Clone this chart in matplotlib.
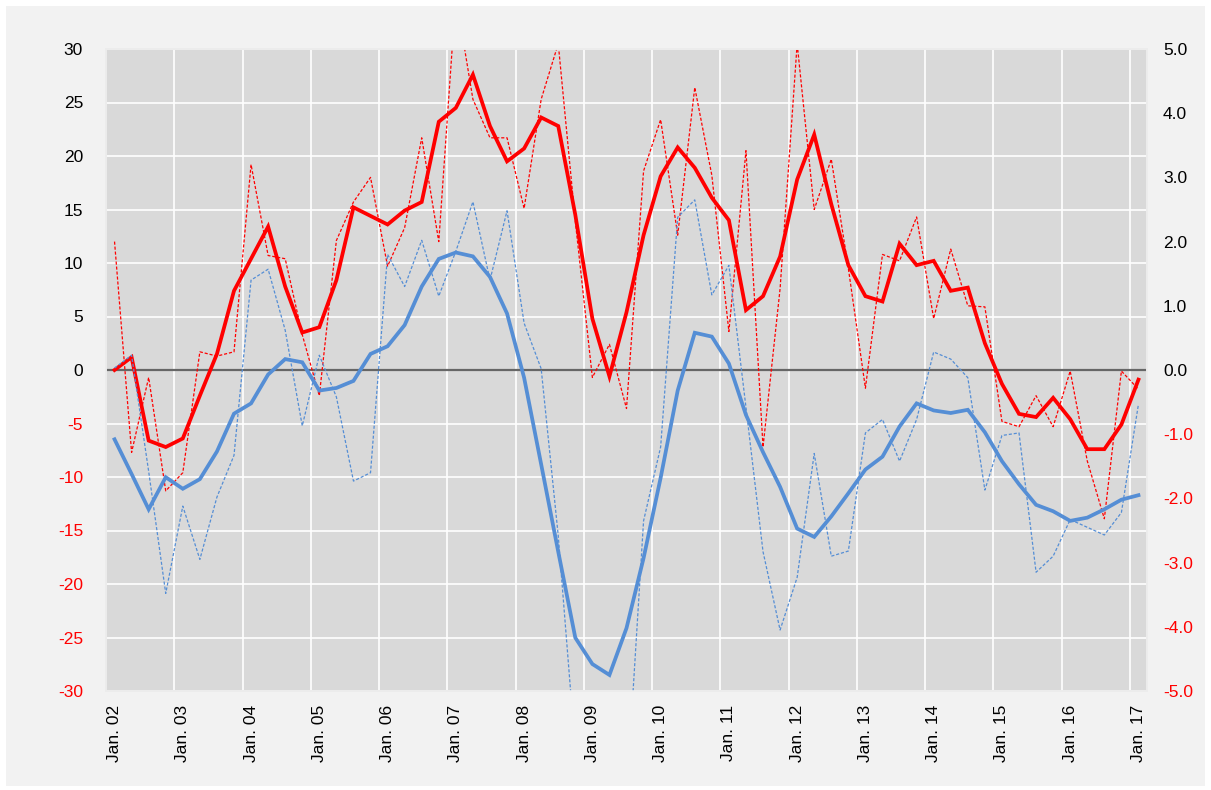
import numpy as np
import matplotlib
matplotlib.use("Agg")
import matplotlib.pyplot as plt
from matplotlib import font_manager
from matplotlib.patches import Rectangle

# quarterly values, Jan. 02 .. Jan. 17
years = ["02", "03", "04", "05", "06", "07", "08", "09", "10",
         "11", "12", "13", "14", "15", "16", "17"]

# left axis (-30..30)
red_thick = [0.0, 1.2, -6.6, -7.2, -6.4, -2.4, 1.5, 7.4, 10.4, 13.4,
             7.8, 3.5, 4.0, 8.4, 15.2, 14.4, 13.6, 14.9, 15.7, 23.2,
             24.5, 27.6, 22.8, 19.5, 20.7, 23.6, 22.8, 14.5, 4.8, -0.6,
             5.4, 12.6, 18.1, 20.8, 18.9, 16.1, 14.0, 5.6, 6.9, 10.6,
             17.8, 22.0, 15.5, 9.8, 6.9, 6.4, 11.8, 9.8, 10.2, 7.4,
             7.7, 2.5, -1.3, -4.1, -4.4, -2.6, -4.6, -7.4, -7.4, -5.1, -0.9]
red_dash = [12.0, -7.7, -0.7, -11.3, -9.6, 1.7, 1.3, 1.7, 19.2, 10.7,
            10.4, 3.3, -2.4, 12.1, 15.7, 18.0, 9.7, 13.3, 21.7, 12.0,
            35.0, 25.3, 21.7, 21.7, 15.1, 25.3, 30.5, 13.9, -0.7, 2.4,
            -3.6, 18.6, 23.4, 12.6, 26.4, 18.2, 3.6, 20.5, -7.2, 7.6,
            30.5, 15.0, 19.7, 9.5, -1.7, 10.8, 10.2, 14.3, 4.8, 11.3,
            6.0, 5.9, -4.8, -5.3, -2.4, -5.3, -0.1, -8.5, -13.9, -0.1, -1.8]

# right axis (-5..5)
blue_thick = [-1.08, -1.62, -2.17, -1.67, -1.85, -1.70, -1.27, -0.68, -0.52, -0.07,
              0.17, 0.12, -0.32, -0.28, -0.17, 0.25, 0.37, 0.70, 1.30, 1.73,
              1.83, 1.77, 1.45, 0.88, -0.12, -1.47, -2.83, -4.17, -4.58, -4.75,
              -4.02, -2.93, -1.68, -0.32, 0.58, 0.52, 0.10, -0.70, -1.28, -1.82,
              -2.47, -2.60, -2.28, -1.92, -1.55, -1.35, -0.88, -0.52, -0.63, -0.67,
              -0.62, -0.97, -1.42, -1.78, -2.10, -2.20, -2.35, -2.30, -2.17, -2.02, -1.95]
blue_dash = [0.03, 0.23, -1.58, -3.48, -2.12, -2.95, -1.98, -1.33, 1.40, 1.57,
             0.62, -0.87, 0.23, -0.42, -1.73, -1.60, 1.80, 1.30, 2.02, 1.15,
             1.85, 2.62, 1.40, 2.48, 0.73, 0.02, -2.58, -5.92, -7.0, -7.17,
             -6.67, -2.35, -1.20, 2.38, 2.65, 1.17, 1.63, -0.58, -2.83, -4.05,
             -3.23, -1.30, -2.90, -2.82, -0.98, -0.77, -1.42, -0.77, 0.28, 0.17,
             -0.12, -1.87, -1.02, -0.98, -3.15, -2.90, -2.33, -2.45, -2.57, -2.22, -0.53]

RED = "#ff0000"
BLUE = "#558ed5"

names = {f.name for f in font_manager.fontManager.ttflist}
if "Liberation Sans Narrow" in names:
    plt.rcParams["font.family"] = ["Liberation Sans Narrow", "Liberation Sans"]
    fsize = 14
else:
    plt.rcParams["font.family"] = ["Liberation Sans"]
    fsize = 12.5

x = np.arange(len(red_thick))

fig = plt.figure(figsize=(12.11, 7.90), dpi=100, facecolor="white")
fig.patches.append(Rectangle((6 / 1211, 4 / 790), 1199 / 1211, 780 / 790,
                             transform=fig.transFigure, facecolor="#f2f2f2",
                             edgecolor="none", zorder=-10))
ax = fig.add_axes([106 / 1211, 99 / 790, 1041 / 1211, 642 / 790])
ax.set_facecolor("#d9d9d9")
ax2 = ax.twinx()

# grid
ax.set_xlim(-0.5, len(x) - 0.5)
ax.set_ylim(-30, 30)
ax.set_yticks(np.arange(-30, 31, 5))
ax.set_xticks(np.arange(0, len(x), 4))
ax.set_xticks(np.arange(3.5, len(x) - 1, 4), minor=True)
ax.grid(True, axis="y", which="major", color="white", lw=1.2)
ax.grid(True, axis="x", which="minor", color="white", lw=1.2)
ax.set_axisbelow(True)
ax.axhline(0, color="#666666", lw=1.6, zorder=1)

ax.plot(x, red_dash, color=RED, lw=0.9, dashes=(2.5, 1.5), zorder=2)
ax.plot(x, red_thick, color=RED, lw=2.7, zorder=3, solid_joinstyle="miter")

ax2.set_ylim(-5, 5)
ax2.set_yticks(np.arange(-5, 5.1, 1))
ax2.plot(x, blue_dash, color=BLUE, lw=0.9, dashes=(2.5, 1.5))
ax2.plot(x, blue_thick, color=BLUE, lw=2.7, solid_joinstyle="miter")

ax.set_xticklabels(["Jan. " + y for y in years], rotation=90, fontsize=fsize)
ax.set_yticklabels([f"{v:g}" for v in np.arange(-30, 31, 5)], fontsize=fsize)
ax2.set_yticklabels([f"{v:.1f}" for v in np.arange(-5, 5.1, 1)], fontsize=fsize)
for lab, v in zip(ax.get_yticklabels(), np.arange(-30, 31, 5)):
    lab.set_color(RED if v < 0 else "black")
for lab, v in zip(ax2.get_yticklabels(), np.arange(-5, 5.1, 1)):
    lab.set_color(RED if v < 0 else "black")

ax.tick_params(axis="both", which="both", length=0)
ax.tick_params(axis="y", pad=16.5)
ax.tick_params(axis="x", pad=10)
ax2.tick_params(axis="y", length=0, pad=11.5)

for a in (ax, ax2):
    for s in a.spines.values():
        s.set_color("#ececec")
        s.set_linewidth(1.2)

fig.savefig("out.png", dpi=100, facecolor=fig.get_facecolor())
